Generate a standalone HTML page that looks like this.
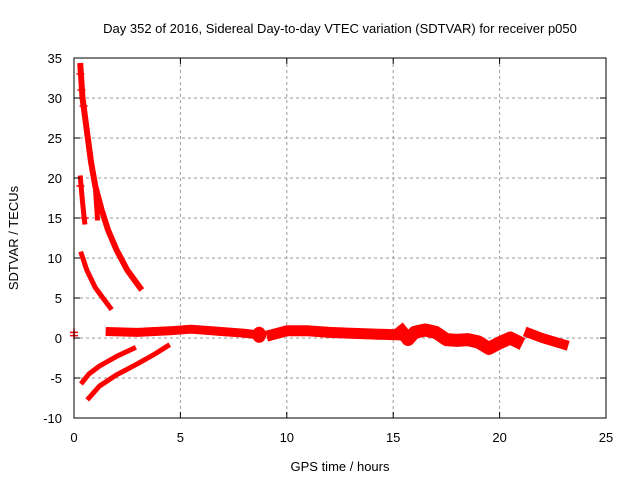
<!DOCTYPE html>
<html><head><meta charset="utf-8"><style>
body{margin:0;background:#fff}
svg{display:block;font-family:"Liberation Sans",sans-serif}
</style></head><body>
<svg id="chart" width="640" height="480" xmlns="http://www.w3.org/2000/svg">
<rect width="640" height="480" fill="#fff"/>
<text x="340" y="33" font-size="13" text-anchor="middle">Day 352 of 2016, Sidereal Day-to-day VTEC variation (SDTVAR) for receiver p050</text>
<g id="grid"></g>
<g id="marks"></g>
<rect x="74" y="58" width="532" height="360" fill="none" stroke="#000" stroke-width="1"/>
<g id="ticks"></g>
<text x="340" y="471" font-size="13" text-anchor="middle">GPS time / hours</text>
<text transform="translate(18,238) rotate(-90)" font-size="13" text-anchor="middle">SDTVAR / TECUs</text>
</svg>
<script>
const xTicks=[0,5,10,15,20,25];
const yTicks=[-10,-5,0,5,10,15,20,25,30,35];
const trackSteep=[[0.3,34],[0.4,30],[0.6,26],[0.8,22],[1.0,19],[1.3,16],[1.6,13.5],[2.0,11],[2.5,8.5],[3.1,6.3]];
const trackShort1=[[0.3,20],[0.4,17],[0.5,14.5]];
const trackShort2=[[1.0,19],[1.05,17],[1.1,15]];
const trackMid=[[0.35,10.5],[0.6,8.5],[1.0,6.3],[1.5,4.5],[1.7,3.8]];
const trackNeg1=[[0.4,-5.5],[0.7,-4.5],[1.2,-3.5],[2,-2.3],[2.8,-1.3]];
const trackNeg2=[[0.7,-7.5],[1.2,-6],[2,-4.6],[3,-3.2],[3.8,-2],[4.4,-1]];
const trackFlat1=[[1.7,0.8],[3,0.7],[4.5,0.9],[5.5,1.1],[7,0.8],[8,0.6],[8.6,0.4]];
const trackFlat2=[[9.3,0.4],[10,0.9],[11,0.9],[12,0.7],[13,0.6],[14,0.5],[15.2,0.4]];
const trackFlat3=[[15.4,0.8],[15.7,-0.2],[16,0.7],[16.5,1.0],[17,0.7],[17.5,-0.2],[18,-0.3],[18.5,-0.2],[19,-0.5],[19.5,-1.3],[20,-0.6],[20.5,0],[20.8,-0.4]];
const trackFlat4=[[21.4,0.6],[22,0],[23,-0.8]];
const scatterPts=[[0,0.7],[0,0.3],[0.3,33],[0.35,31],[0.45,29],[0.3,19],[0.5,15]];
const blobPts=[[8.7,0.4]];

const X=v=>74+v*532/25, Y=v=>338-v*8;
const NS="http://www.w3.org/2000/svg";
const grid=document.getElementById('grid'),ticks=document.getElementById('ticks'),marks=document.getElementById('marks');
function mk(tag,attrs,parent){const e=document.createElementNS(NS,tag);for(const k in attrs)e.setAttribute(k,attrs[k]);parent.appendChild(e);return e;}
xTicks.forEach(t=>{
 if(t>0&&t<25){const g=mk('line',{x1:X(t),x2:X(t),y1:58,y2:418,stroke:'#999','stroke-dasharray':'3,3'},grid);
 
 }
 mk('line',{x1:X(t),x2:X(t),y1:418,y2:412,stroke:'#000'},ticks);
 mk('line',{x1:X(t),x2:X(t),y1:58,y2:64,stroke:'#000'},ticks);
 const l=mk('text',{x:X(t),y:442,'font-size':13,'text-anchor':'middle'},ticks);l.textContent=t;
 
 
});
yTicks.forEach(t=>{
 if(t>-10&&t<35){const g=mk('line',{x1:74,x2:606,y1:Y(t),y2:Y(t),stroke:'#999','stroke-dasharray':'3,3'},grid);
 
 }
 mk('line',{x1:74,x2:80,y1:Y(t),y2:Y(t),stroke:'#000'},ticks);
 mk('line',{x1:606,x2:600,y1:Y(t),y2:Y(t),stroke:'#000'},ticks);
 const l=mk('text',{x:62,y:Y(t)+5,'font-size':13,'text-anchor':'end'},ticks);l.textContent=t;
 
 
});
function track(pts,w,name){
 const p=mk('polyline',{points:pts.map(q=>X(q[0])+','+Y(q[1])).join(' '),fill:'none',stroke:'#f00','stroke-width':w,'stroke-linejoin':'round','stroke-linecap':'square'},marks);
 
 
}
track(trackSteep,6,'track-steep');
track(trackShort1,5,'track-short-1');
track(trackShort2,5,'track-short-2');
track(trackMid,5,'track-mid');
track(trackNeg1,5,'track-neg-1');
track(trackNeg2,5,'track-neg-2');
track(trackFlat1,9,'track-flat-1');
track(trackFlat2,11,'track-flat-2');
track(trackFlat3,13,'track-flat-3');
track(trackFlat4,10,'track-flat-4');
scatterPts.forEach(q=>{
 const p=mk('path',{d:`M${X(q[0])-4},${Y(q[1])}h8M${X(q[0])},${Y(q[1])-4}v8`,stroke:'#f00','stroke-width':1.5},marks);
 
 
});
blobPts.forEach(q=>{
 const c=mk('ellipse',{cx:X(q[0]),cy:Y(q[1]),rx:7,ry:8,fill:'#f00'},marks);
 
 
});
</script>
</body></html>
